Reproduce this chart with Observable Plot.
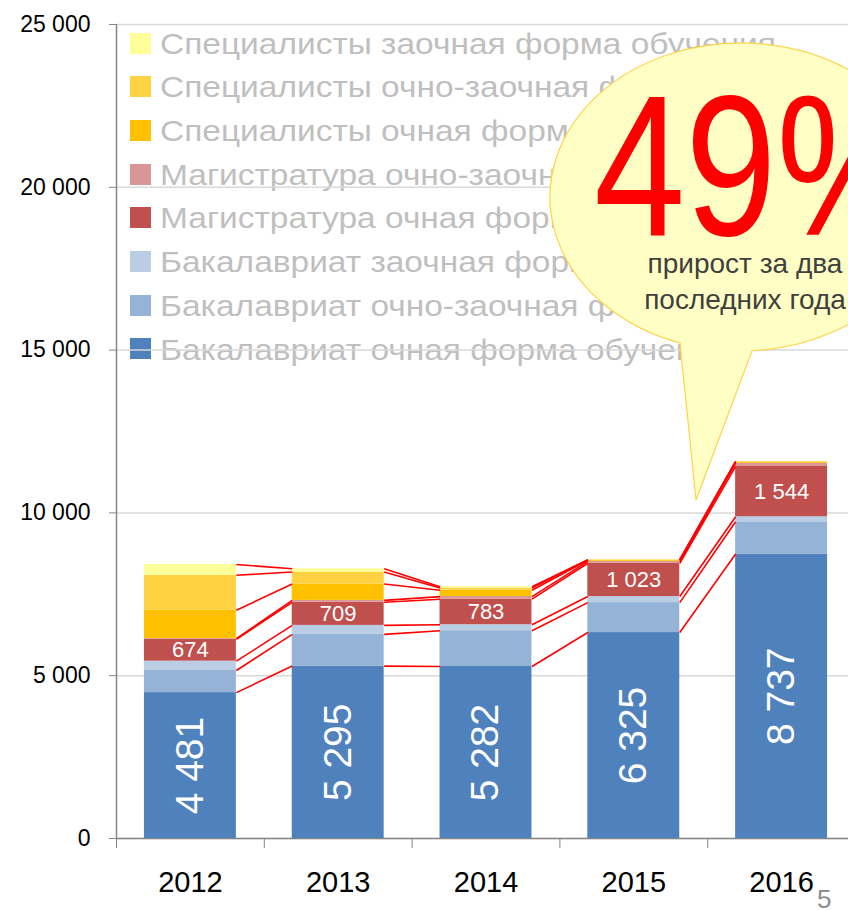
<!DOCTYPE html>
<html>
<head>
<meta charset="utf-8">
<script src="https://cdn.jsdelivr.net/npm/d3@7"></script>
<script src="https://cdn.jsdelivr.net/npm/@observablehq/plot@0.6"></script>
<style>
  html, body { margin: 0; padding: 0; background: #fff; overflow: hidden; }
  #wrap { position: relative; width: 848px; height: 910px; overflow: hidden; font-family: "Liberation Sans", Arial, sans-serif; }
  #legend { position: absolute; left: 0; top: 0; width: 848px; height: 400px; z-index: 0; }
  .sw { position: absolute; left: 130px; width: 21px; height: 21px; }
  .lt { position: absolute; left: 160px; font-size: 30px; line-height: 30px; color: #bfbfbf; white-space: nowrap; transform: scaleX(1.116); transform-origin: 0 0; }
  #chart { position: absolute; left: 0; top: 0; z-index: 1; }
  #page { position: absolute; left: 817px; top: 886px; font-size: 26px; line-height: 26px; color: #8c8c8c; z-index: 2; }
</style>
</head>
<body>
<div id="wrap">
  <div id="legend"></div>
  <div id="chart"></div>
  <div id="page">5</div>
</div>
<script>
// ---- data ----
const years = [2012, 2013, 2014, 2015, 2016];
const seriesNames = [
  "Бакалавриат очная форма обучения",
  "Бакалавриат очно-заочная форма обучения",
  "Бакалавриат заочная форма обучения",
  "Магистратура очная форма обучения",
  "Магистратура очно-заочная форма обучения",
  "Специалисты очная форма обучения",
  "Специалисты очно-заочная форма обучения",
  "Специалисты заочная форма обучения"
];
const bakOch      = [4481, 5295, 5282, 6325, 8737];
const bakOchZaoch = [680, 975, 1100, 920, 990];
const bakZaoch    = [285, 275, 185, 185, 155];
const magOch      = [674, 709, 783, 1023, 1544];
const magOchZaoch = [20, 60, 80, 60, 100];
const specOch     = [870, 500, 195, 35, 40];
const specOchZaoch= [1075, 370, 70, 10, 10];
const specZaoch   = [330, 100, 40, 5, 5];
const yTicks = [0, 5000, 10000, 15000, 20000, 25000];
const growthLabel = "49%";
const growthText = ["прирост за два", "последних года"];

const colors = ["#4f81bd", "#95b3d7", "#b9cde5", "#c0504d", "#d99694", "#ffc000", "#ffd143", "#ffff99"];
const seriesValues = [bakOch, bakOchZaoch, bakZaoch, magOch, magOchZaoch, specOch, specOchZaoch, specZaoch];

// ---- build table ----
const half = 0.311;
const rows = [];
const tops = years.map(() => []);
years.forEach((yr, i) => {
  let cum = 0;
  seriesNames.forEach((s, k) => {
    const v = seriesValues[k][i];
    rows.push({year: yr, series: s, k, value: v, x1: yr - half, x2: yr + half, y1: cum, y2: cum + v});
    cum += v;
    tops[i][k] = cum;
  });
});
const links = [];
for (let i = 0; i < years.length - 1; i++) {
  seriesNames.forEach((s, k) => {
    links.push({x1: years[i] + half, x2: years[i + 1] - half, y1: tops[i][k], y2: tops[i + 1][k]});
  });
}

const fmt = d3.formatLocale({decimal: ",", thousands: "\u00a0", grouping: [3], currency: ["", ""]}).format(",d");

// ---- legend (drawn beneath the chart SVG) ----
const legend = document.getElementById("legend");
const legendOrder = seriesNames.map((s, k) => k).reverse();
legendOrder.forEach((k, r) => {
  const rc = 43 + r * 43.7;
  const sw = document.createElement("div");
  sw.className = "sw";
  sw.style.top = (rc - 10.5) + "px";
  sw.style.background = colors[k];
  legend.appendChild(sw);
  const t = document.createElement("div");
  t.className = "lt";
  t.style.top = (rc + 11 - 25.4) + "px";
  t.textContent = seriesNames[k];
  legend.appendChild(t);
});

// ---- chart ----
const boundaries = years.map(y => y - 0.5);
const chart = Plot.plot({
  width: 848,
  height: 910,
  marginTop: 24,
  marginBottom: 72,
  marginLeft: 116,
  marginRight: 0,
  style: {background: "transparent", fontFamily: "'Liberation Sans', Arial, sans-serif", color: "#000"},
  x: {type: "linear", domain: [2011.5, 2016.5], range: [116, 855]},
  y: {domain: [0, 25000], range: [838, 24]},
  color: {domain: seriesNames, range: colors},
  marks: [
    Plot.gridY(yTicks, {stroke: "#d9d9d9", strokeOpacity: 1, strokeWidth: 1.5}),
    Plot.axisY(yTicks, {tickSize: 7, tickPadding: 19, tickFormat: fmt, fontSize: 23, stroke: "#868686", label: null}),
    Plot.axisX(boundaries, {tickSize: 10, tickFormat: () => "", stroke: "#868686", label: null}),
    Plot.axisX(years, {tickSize: 0, tickPadding: 33, tickFormat: d => String(d), fontSize: 29, label: null}),
    Plot.ruleX([2011.5], {y1: 0, y2: 25000, stroke: "#868686", strokeWidth: 1.5}),
    Plot.ruleY([0], {stroke: "#868686", strokeWidth: 1.5}),
    Plot.rect(rows, {x1: "x1", x2: "x2", y1: "y1", y2: "y2", fill: "series"}),
    Plot.link(links, {x1: "x1", x2: "x2", y1: "y1", y2: "y2", stroke: "#ff0000", strokeWidth: 1.6}),
    Plot.text(rows.filter(d => d.k === 0), {x: "year", y: d => (d.y1 + d.y2) / 2, text: d => fmt(d.value), rotate: -90, fill: "white", fontSize: 39}),
    Plot.text(rows.filter(d => d.k === 3), {x: "year", y: d => (d.y1 + d.y2) / 2, text: d => fmt(d.value), fill: "white", fontSize: 22})
  ]
});
document.getElementById("chart").appendChild(chart);

// ---- callout bubble ----
const cx = 741, cy = 197, rx = 191, ry = 154;
const yAt = x => cy + ry * Math.sqrt(1 - ((x - cx) / rx) ** 2);
const svg = d3.select(chart);
const g = svg.append("g");
const aX = 680, bX = 752;
g.append("path")
  .attr("d", `M${aX},${yAt(aX)} L696,500 L${bX},${yAt(bX)} A${rx},${ry} 0 1 0 ${aX},${yAt(aX)} Z`)
  .attr("fill", "#ffffc5")
  .attr("stroke", "#ffd24d")
  .attr("stroke-width", 1.2);
g.append("text")
  .attr("transform", "translate(594,235) scale(0.82,1)")
  .attr("text-anchor", "start")
  .attr("font-size", 200)
  .attr("fill", "#ff0000")
  .text(growthLabel);
growthText.forEach((t, i) => {
  g.append("text")
    .attr("x", 745).attr("y", 273 + i * 36)
    .attr("text-anchor", "middle")
    .attr("font-size", 28)
    .attr("fill", "#404040")
    .text(t);
});
</script>
</body>
</html>
